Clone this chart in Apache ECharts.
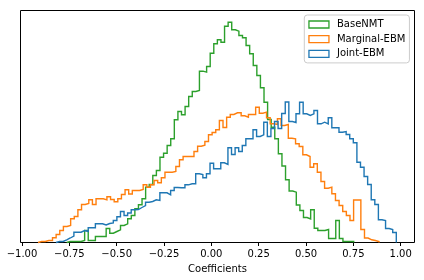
<!DOCTYPE html>
<html>
<head>
<meta charset="utf-8">
<script src="https://cdn.jsdelivr.net/npm/echarts@6/dist/echarts.min.js"></script>
<style>
  html, body { margin: 0; padding: 0; background: #fff; }
  #chart { width: 424px; height: 280px; }
</style>
</head>
<body>
<div id="chart"></div>
<script>
// ---- data (bin heights; y axis has no labels) ----
const seriesNames = ['BaseNMT', 'Marginal-EBM', 'Joint-EBM'];
const seriesColors = ['#2ca02c', '#ff7f0e', '#1f77b4'];
const xTickValues = [-1.0, -0.75, -0.5, -0.25, 0.0, 0.25, 0.5, 0.75, 1.0];
const xAxisLabel = 'Coefficients';

// bin ranges (coefficient value of first left edge, last right edge)
const baseNMTRange = [-0.7639, 0.7518];
const marginalRange = [-0.9155, 0.8854];
const jointRange = [-0.8205, 0.9768];

const baseNMTCounts = [1,1,1,1,2,12,2,2,6,6,6,14,9.3,11,12.7,17,18.7,23.7,27,33.7,37.7,43.7,55.3,58,67,72,85.3,89.3,97,103.7,122.7,131,127.7,136,146,151,152,171.3,170.3,176,189.3,198.7,202.7,200.3,216.3,220.3,212.7,211.3,207,204.7,197,188.7,177,167,154.7,140.3,123,115.3,103.7,88.7,76.5,62.7,51.5,50.3,37.5,32,25,23.5,32.7,14.2,12,12,13,4,4,22,4,1,1,1];

const marginalCounts = [1,1,2,2,4.7,8,12,16,17,23.7,26,32.7,38,39,42.7,38,43.7,43.7,42.7,45.7,43,40.7,43.7,48,52.7,48.5,52,52,53,57.7,55.3,57.7,62,59.7,64.7,70.3,70.3,71,76,82.7,86,86,86,91,96.3,97.3,101,107.7,110,112.7,122,115,125.3,128,129.7,129.7,126.7,125.3,128,128,135.3,129.3,130.3,124.7,118.7,118,123.7,117,118,104.3,103.7,98.7,96,87.7,86,75.3,78.7,70.3,61,54.3,55.3,48.7,42,37,31,27,22,42.5,42.5,13,4.5,2.7,2,1];

const jointCounts = [1,1,2.7,4.5,6.5,10.3,10.3,12,11,14.7,14.7,18.7,18.7,17.5,19,19.5,22,25.7,31,27,29.5,32.7,33,35,37,40.3,41,42.7,42,49.7,49.7,47.7,52,55,54.7,54.7,57.7,58.7,58.7,68.7,68,64.7,68.7,79.3,73.7,73.7,79.7,78,94.7,88,94.7,91,97,103.7,103.7,112.7,106,107.7,120.3,106,114,121,114,129,140.5,121,120,128.7,140.3,128.7,127,128.7,132,118.7,120.3,118.7,124.7,114.7,114.7,110.3,111,108,103.7,99.7,80.3,75.3,66,58,42.7,38,22.7,22,14,13,10];

// ---- build step outline from bins ----
function stepOutline(range, counts) {
  const n = counts.length;
  const w = (range[1] - range[0]) / n;
  const pts = [[range[0], 0]];
  for (let i = 0; i < n; i++) pts.push([range[0] + i * w, counts[i]]);
  pts.push([range[1], counts[n - 1]]);
  pts.push([range[1], 0]);
  return pts;
}

const allRanges = [baseNMTRange, marginalRange, jointRange];
const allCounts = [baseNMTCounts, marginalCounts, jointCounts];

const font = 'DejaVu Sans';
const chart = echarts.init(document.getElementById('chart'), null, { renderer: 'canvas' });

const fmt = v => (v < 0 ? '\u2212' : '') + Math.abs(v).toFixed(2);

chart.setOption({
  animation: false,
  backgroundColor: '#ffffff',
  grid: {
    left: 20.5, top: 10.5, width: 394, height: 232,
    show: true, borderColor: '#000', borderWidth: 1, backgroundColor: 'transparent'
  },
  xAxis: {
    type: 'value',
    min: -1.0079, max: 1.0729,
    axisLine: { show: false },
    splitLine: { show: false },
    axisTick: { show: true, customValues: xTickValues, length: 3.5, lineStyle: { color: '#000', width: 1 } },
    axisLabel: { show: true, customValues: xTickValues, formatter: fmt, margin: 7,
      fontSize: 10, fontFamily: font, color: '#000' },
    name: xAxisLabel, nameLocation: 'middle', nameGap: 18.5,
    nameTextStyle: { fontSize: 10, fontFamily: font, color: '#000' }
  },
  yAxis: {
    type: 'value', min: 0, max: 232,
    axisLine: { show: false }, axisTick: { show: false },
    axisLabel: { show: false }, splitLine: { show: false }
  },
  legend: {
    orient: 'vertical',
    left: 304.3, top: 15,
    padding: [4.5, 4, 4, 4],
    itemGap: 4.7,
    itemWidth: 20, itemHeight: 7,
    icon: 'rect',
    backgroundColor: 'rgba(255,255,255,0.8)',
    borderColor: '#cccccc', borderWidth: 1, borderRadius: 3,
    textStyle: { fontSize: 10, fontFamily: font, color: '#000', padding: [0, 0, 0, 3] },
    data: seriesNames.map((n, i) => ({
      name: n,
      itemStyle: { color: 'rgba(255,255,255,0)', borderColor: seriesColors[i], borderWidth: 1.3 }
    }))
  },
  series: seriesNames.map((n, i) => ({
    name: n,
    type: 'line',
    step: 'end',
    showSymbol: false,
    symbol: 'none',
    clip: false,
    z: 2 + i,
    color: seriesColors[i],
    lineStyle: { color: seriesColors[i], width: 1.4, join: 'miter' },
    data: stepOutline(allRanges[i], allCounts[i])
  }))
});
</script>
</body>
</html>
